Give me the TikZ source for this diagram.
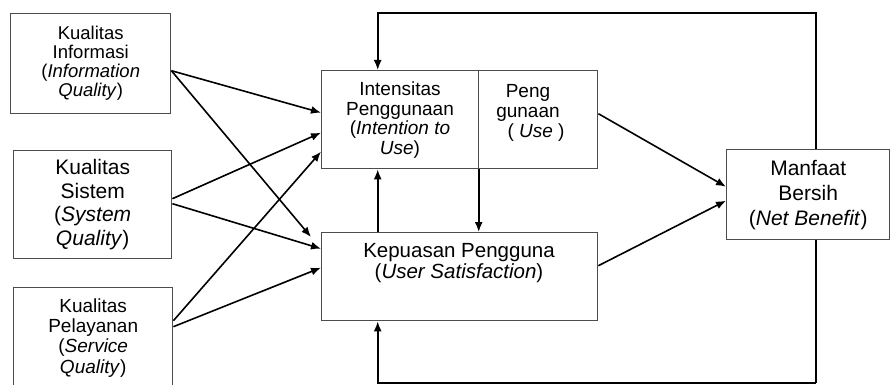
\documentclass[tikz,border=0pt]{standalone}
\usepackage{fontspec}
\setmainfont{Liberation Sans}
\usetikzlibrary{arrows.meta}
\begin{document}
\begin{tikzpicture}[x=1pt,y=-1pt,
  box/.style={draw=black!70, line width=1.4pt, inner sep=0pt, anchor=north west, align=center},
  conn/.style={line width=1.6pt, draw=black},
  arr/.style={conn, -{Latex[length=10pt,width=8pt]}},
  lbl/.style={align=center, inner sep=0pt}]
\useasboundingbox (0,0) rectangle (893,385);
% left boxes
\node[box, minimum width=160pt, minimum height=100pt, font=\fontsize{18.5}{19}\selectfont] (b1) at (10,13)
  {Kualitas\\Informasi\\(\textit{Information}\\\textit{Quality})};
\node[box, minimum width=158pt, minimum height=108pt, font=\fontsize{21}{23.5}\selectfont] (b2) at (13,150)
  {Kualitas\\Sistem\\(\textit{System}\\\textit{Quality})};
\node[box, minimum width=159pt, minimum height=100pt, font=\fontsize{19}{20.3}\selectfont] (b3) at (13,287)
  {Kualitas\\Pelayanan\\(\textit{Service}\\\textit{Quality})};
% middle boxes
\node[box, minimum width=276pt, minimum height=98pt] (top) at (321,70) {};
\node[box, minimum width=276pt, minimum height=88pt] (us) at (321,232) {};
% right box
\node[box, minimum width=163pt, minimum height=90pt, font=\fontsize{21}{25}\selectfont] (net) at (726,149)
  {Manfaat\\Bersih\\(\textit{Net Benefit})};
% texts of middle boxes
\node[lbl, font=\fontsize{19}{19.5}\selectfont] (int) at (400,120)
  {Intensitas\\Penggunaan\\(\textit{Intention to}\\\textit{Use})};
\node[lbl, font=\fontsize{19}{20}\selectfont] (use) at (528,113)
  {Peng\\gunaan\\\hspace*{16pt}( \textit{Use} )};
\node[lbl, font=\fontsize{20.5}{21.6}\selectfont] (ust) at (459,263)
  {Kepuasan Pengguna\\(\textit{User Satisfaction})};
% divider and arrow down
\coordinate (dtop) at ([xshift=19pt]top.north);
\draw[draw=black!70, line width=1.4pt] (dtop) -- (dtop |- top.south);
\draw[arr] (dtop |- top.south) -- (dtop |- us.north);
% arrow up from US to top
\coordinate (usn) at ([xshift=-82pt]us.north);
\draw[arr] (usn) -- (usn |- top.south);
% arrows from left boxes
\draw[arr] ([yshift=-7pt]b1.east) -- ([yshift=7pt]top.west);
\draw[arr] ([yshift=-7pt]b1.east) -- ([xshift=-10pt,yshift=-5pt]us.north west);
\draw[arr] ([yshift=6pt]b2.east) -- ([yshift=-13pt]top.west);
\draw[arr] ([yshift=1pt]b2.east) -- ([yshift=28pt]us.west);
\draw[arr] ([yshift=17pt]b3.east) -- ([yshift=-32pt]top.west);
\draw[arr] ([yshift=11pt]b3.east) -- ([yshift=9pt]us.west);
% arrows to net benefit
\draw[arr] ([yshift=6pt]top.east) -- ([yshift=8pt]net.west);
\draw[arr] ([yshift=11pt]us.east) -- ([yshift=-6pt]net.west);
% feedback loops
\coordinate (tl) at (0,13);
\coordinate (bl) at (0,383);
\coordinate (nt) at ([xshift=7.5pt]net.north);
\coordinate (nb) at ([xshift=7.5pt]net.south);
\coordinate (tpn) at ([xshift=-82pt]top.north);
\coordinate (uss) at ([xshift=-82pt]us.south);
\draw[arr] (nt) -- (nt |- tl) -| (tpn);
\draw[conn, line width=2.2pt] (nb) -- (nb |- bl);
\draw[arr] (nb |- bl) -| (uss);
\end{tikzpicture}
\end{document}
